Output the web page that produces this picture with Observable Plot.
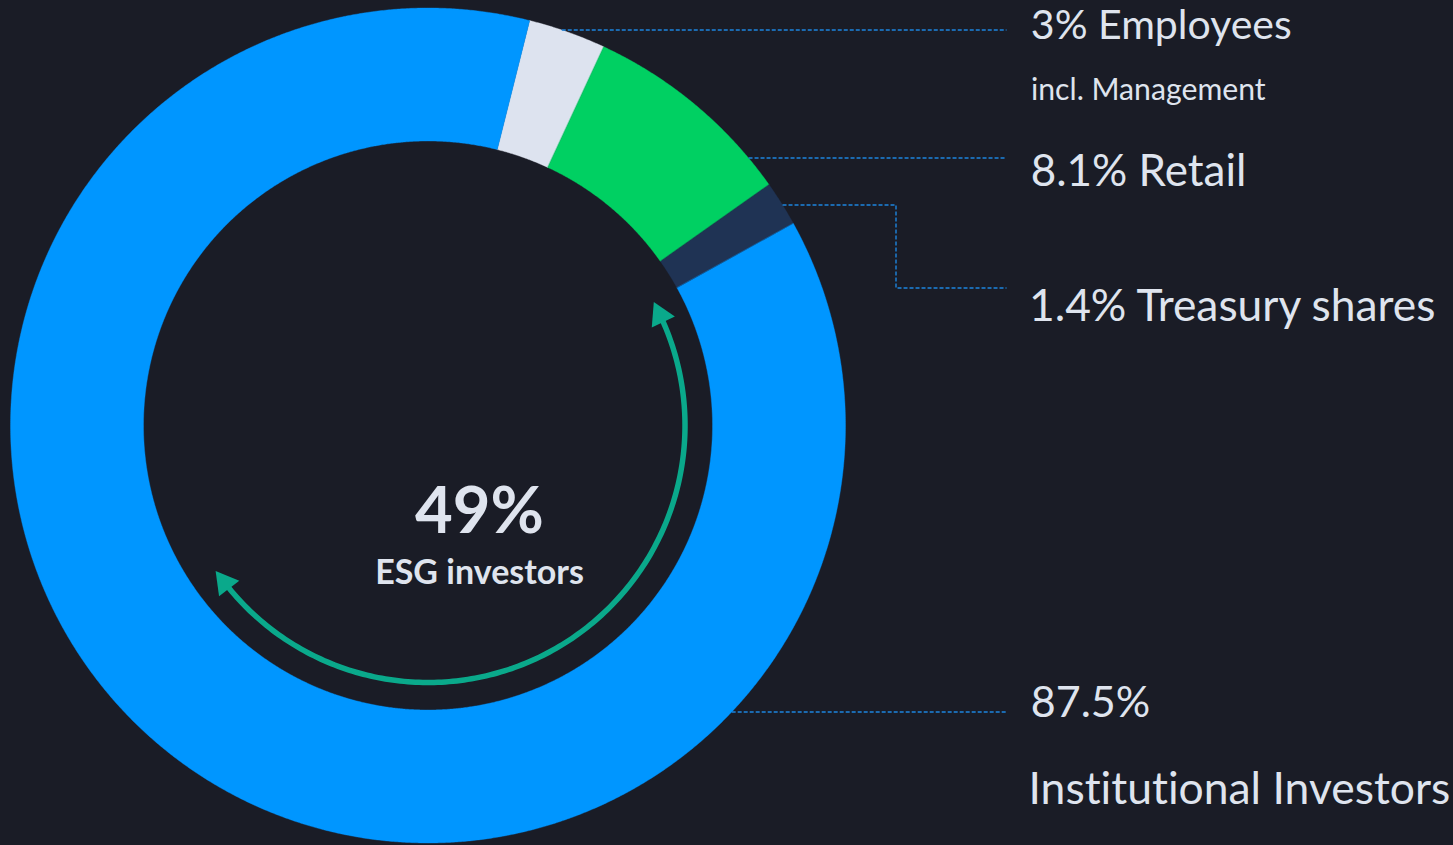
<!DOCTYPE html>
<html>
<head>
<meta charset="utf-8">
<script src="https://cdn.jsdelivr.net/npm/d3@7"></script>
<script src="https://cdn.jsdelivr.net/npm/@observablehq/plot@0.6"></script>
<style>
  html, body { margin: 0; padding: 0; background: #1a1c26; overflow: hidden; }
  #chart svg { display: block; }
  #chart svg text { font-variant-ligatures: none; font-feature-settings: "liga" 0, "clig" 0; }
</style>
</head>
<body>
<div id="chart"></div>
<script>
// ---------------- DATA ----------------
const categories  = ["Employees", "Retail", "Treasury shares", "Institutional Investors"];
const shares      = [3.0, 8.3, 1.75, 86.95];            // slice shares as drawn in the ring (%)
const shareLabels = ["3% Employees", "8.1% Retail", "1.4% Treasury shares", "87.5%"];
const subLabels   = ["incl. Management", "", "", "Institutional Investors"];
const sliceColors = ["#dde3ef", "#00d062", "#1f3354", "#0096ff"];
const esgValue    = "49%";
const esgLabel    = "ESG investors";

// ---------------- LAYOUT ----------------
const W = 1453, H = 845;
const cx = 427.5, cy = 425, R = 417.5, R0 = 284.5, startDeg = 14.1;
const bg = "#1a1c26", textColor = "#dfe4ee", leaderColor = "#1d84de", arrowColor = "#0aa98b";
const font = "Lato";
const labelX = 1032, leaderEndX = 1006;
const leaderY   = [29.5, 157.5, 204.5, 711.5];
const elbow     = {index: 2, x: 895.5, y2: 287.5};
const baselineY = [38, 185, 320, 716];
const subBaselineY = [99, null, null, 803];
const labelInkWidth = [258, 211, 404, 116];
const subInkWidth   = [233, 0, 0, 418];
const arrow = {r: 257, fromDeg: 64.6, toDeg: 232.3, head: 9.5, width: 5.5};
const center = {x: 479, yValue: 532, yLabel: 583, wValue: 127, wLabel: 205};

// ---------------- HELPERS ----------------
const rad = d => d * Math.PI / 180;
const polar = (deg, r) => ({x: cx + r * Math.sin(rad(deg)), y: cy - r * Math.cos(rad(deg))});
const ctx = document.createElement("canvas").getContext("2d");
function fit(text, inkWidth, weight) {
  ctx.font = `${weight} 100px ${font}`;
  const m = ctx.measureText(text);
  const w = m.actualBoundingBoxLeft + m.actualBoundingBoxRight;
  const size = 100 * inkWidth / w;
  return {size, left: m.actualBoundingBoxLeft * size / 100};
}

// ring slices
const total = d3.sum(shares);
let acc = startDeg;
const slices = categories.map((c, i) => {
  const a0 = acc, a1 = acc + shares[i] / total * 360;
  acc = a1;
  return {c, a0, a1};
});
const ringPts = slices.flatMap(s => {
  const n = Math.max(4, Math.ceil((s.a1 - s.a0) / 0.25));
  const outer = d3.range(n + 1).map(k => ({...polar(s.a0 + (s.a1 - s.a0) * k / n, R), c: s.c}));
  const inner = d3.range(n + 1).map(k => ({...polar(s.a1 - (s.a1 - s.a0) * k / n, R0), c: s.c}));
  return [...outer, ...inner];
});

// leader lines
const leaderPts = categories.flatMap((c, i) => {
  const y = leaderY[i];
  const x0 = cx + Math.sqrt(R * R - (y - cy) * (y - cy));
  const pts = [{x: x0, y, c}];
  if (i === elbow.index) {
    pts.push({x: elbow.x, y, c}, {x: elbow.x, y: elbow.y2, c}, {x: leaderEndX, y: elbow.y2, c});
  } else {
    pts.push({x: leaderEndX, y, c});
  }
  return pts;
});

// labels
const labelRows = [];
categories.forEach((c, i) => {
  const f = fit(shareLabels[i], labelInkWidth[i], 400);
  labelRows.push({text: shareLabels[i], x: labelX + f.left, y: baselineY[i], size: f.size});
  if (subLabels[i]) {
    const g = fit(subLabels[i], subInkWidth[i], 400);
    labelRows.push({text: subLabels[i], x: labelX + g.left, y: subBaselineY[i], size: g.size});
  }
});
const fv = fit(esgValue, center.wValue, 700);
const fl = fit(esgLabel, center.wLabel, 700);
const centerRows = [
  {text: esgValue, x: center.x, y: center.yValue, size: fv.size},
  {text: esgLabel, x: center.x, y: center.yLabel, size: fl.size}
];

// arrow
const nA = 200;
const arrowPts = d3.range(nA + 1).map(k => polar(arrow.fromDeg + (arrow.toDeg - arrow.fromDeg) * k / nA, arrow.r));
const heads = [
  {...polar(arrow.fromDeg, arrow.r), rot: arrow.fromDeg - 90},
  {...polar(arrow.toDeg, arrow.r), rot: arrow.toDeg + 90}
];

const chart = Plot.plot({
  width: W, height: H,
  margin: 0,
  style: {background: bg, color: textColor, fontFamily: font},
  x: {domain: [0, W], range: [0, W], axis: null},
  y: {domain: [0, H], range: [0, H], axis: null},
  color: {domain: categories, range: sliceColors},
  marks: [
    Plot.line(ringPts, {x: "x", y: "y", z: "c", fill: "c", stroke: "c", strokeWidth: 0.4, curve: "linear-closed"}),
    Plot.line(leaderPts, {x: "x", y: "y", z: "c", stroke: leaderColor, strokeWidth: 1.4, strokeDasharray: "4,2", curve: "linear", strokeLinecap: "butt"}),
    Plot.line(arrowPts, {x: "x", y: "y", stroke: arrowColor, strokeWidth: arrow.width, curve: "linear"}),
    Plot.dot(heads, {x: "x", y: "y", symbol: "triangle", r: arrow.head, rotate: "rot", fill: arrowColor, stroke: "none"}),
    Plot.text(labelRows, {x: "x", y: "y", text: "text", fontSize: "size", textAnchor: "start", lineAnchor: "bottom", fill: textColor, fontFamily: font}),
    Plot.text(centerRows, {x: "x", y: "y", text: "text", fontSize: "size", textAnchor: "middle", lineAnchor: "bottom", fill: textColor, fontWeight: 700, fontFamily: font})
  ]
});
document.getElementById("chart").appendChild(chart);
</script>
</body>
</html>
